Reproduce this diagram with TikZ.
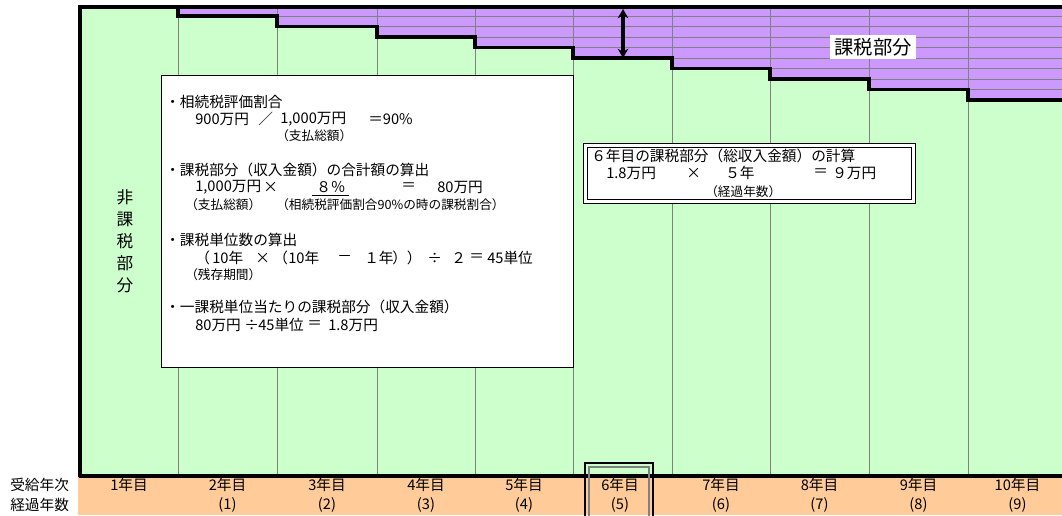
\documentclass[tikz,border=0pt]{standalone}
\usepackage{fontspec}
\setmainfont{Noto Sans CJK JP}
\usetikzlibrary{arrows.meta}
\definecolor{nontax}{HTML}{CCFFCC}
\definecolor{taxpart}{HTML}{CC99FF}
\definecolor{band}{HTML}{FFCC99}
\definecolor{gridgrey}{HTML}{808080}
\tikzset{
  t/.style={font=\fontsize{11}{13}\selectfont, inner sep=0pt, anchor=west},
  s/.style={font=\fontsize{9.5}{11}\selectfont, inner sep=0pt, anchor=west},
  lab/.style={font=\fontsize{11}{13}\selectfont, inner sep=0pt, anchor=center},
  gridline/.style={draw=gridgrey, line width=0.7pt},
  stepline/.style={draw=black, line width=2.4pt, line join=miter},
  frameline/.style={draw=black, line width=2.8pt},
}
\begin{document}
\begin{tikzpicture}[x=0.75pt,y=-0.75pt]
\useasboundingbox (0,0) rectangle (1062,515);
% green base
\fill[nontax] (80,7) rectangle (1062,476);
% purple taxed part
\fill[taxpart] (178,7) -- (1062,7) -- (1062,100) -- (968,100) -- (968,89.5) -- (869,89.5) -- (869,79) -- (770,79) -- (770,68.5) -- (672,68.5) -- (672,58) -- (573,58) -- (573,47.5) -- (475,47.5) -- (475,37) -- (377,37) -- (377,26.5) -- (277,26.5) -- (277,16) -- (178,16) -- cycle;
% grey horizontal lines in the taxed part
\draw[gridline] (277,16) -- (1062,16);
\draw[gridline] (377,26.5) -- (1062,26.5);
\draw[gridline] (475,37) -- (1062,37);
\draw[gridline] (573,47.5) -- (1062,47.5);
\draw[gridline] (672,58) -- (1062,58);
\draw[gridline] (770,68.5) -- (1062,68.5);
\draw[gridline] (869,79) -- (1062,79);
\draw[gridline] (968,89.5) -- (1062,89.5);
% vertical column lines
\foreach \cx in {178,277,377,475,573,672,770,869,968}
  \draw[gridline] (\cx,7) -- (\cx,476);
% step line
\draw[stepline] (178,7) -- (178,16) -- (277,16) -- (277,26.5) -- (377,26.5) -- (377,37) -- (475,37) -- (475,47.5) -- (573,47.5) -- (573,58) -- (672,58) -- (672,68.5) -- (770,68.5) -- (770,79) -- (869,79) -- (869,89.5) -- (968,89.5) -- (968,100) -- (1062,100);
% band
\fill[band] (78,477) rectangle (1062,515);
% frame
\draw[frameline] (80,477) -- (80,7) -- (1062,7);
\draw[frameline] (78.5,476) -- (1062,476);
% double arrow
\coordinate (arT) at (623,9);
\coordinate (arB) at (623,58);
\draw[line width=2.8pt, {Stealth[length=7pt,width=8pt]}-{Stealth[length=7pt,width=8pt]}] (arT) -- (arB);
% taxed label
\node[fill=white, inner xsep=3pt, inner ysep=2pt, font=\fontsize{14.5}{16}\selectfont] (taxlab) at (873,47) {課税部分};
% non-taxed label
\node[align=center, font=\fontsize{12.5}{16.5}\selectfont, inner sep=0pt] (nontaxlab) at (125,241) {非\\課\\税\\部\\分};
% main box
\node[draw=black, line width=1pt, fill=white, minimum width=309pt, minimum height=219pt, inner sep=0pt, anchor=north west] (mainbox) at (161,75) {};
\node[t] (b1h) at (165,102) {・相続税評価割合};
\node[t] (b1a) at (195,119) {900万円};
\node[t] (b1b) at (258,119) {／};
\node[t] (b1c) at (280,119) {1,000万円};
\node[t] (b1d) at (368,119) {＝90\%};
\node[s] (b1e) at (276,136) {（支払総額）};
\node[t] (b2h) at (165,170) {・課税部分（収入金額）の合計額の算出};
\node[t] (b2a) at (195,187) {1,000万円};
\node[t] (b2b) at (263,187) {×};
\node[t] (b2c) at (316,187) {８％};
\draw[line width=0.8pt] ([xshift=-3pt,yshift=-2pt]b2c.south west) -- ([xshift=2pt,yshift=-2pt]b2c.south east);
\node[t] (b2d) at (401,187) {＝};
\node[t] (b2e) at (437,187) {80万円};
\node[s] (b2f) at (185,205) {（支払総額）};
\node[s] (b2g) at (276,205) {（相続税評価割合90\%の時の課税割合）};
\node[t] (b3h) at (165,240) {・課税単位数の算出};
\node[t] (b3a) at (195,258) {（};
\node[t] (b3b) at (212,258) {10年};
\node[t] (b3c) at (255,258) {×};
\node[t] (b3d) at (273,258) {（};
\node[t] (b3e) at (288,258) {10年};
\node[t] (b3f) at (337,258) {－};
\node[t] (b3g) at (364,258) {１年};
\node[t] (b3h2) at (392,258) {））};
\node[t] (b3i) at (427,258) {÷};
\node[t] (b3j) at (451,258) {２};
\node[t] (b3k) at (469,258) {＝};
\node[t] (b3l) at (487,258) {45単位};
\node[s] (b3m) at (185,275) {（残存期間）};
\node[t] (b4h) at (165,307) {・一課税単位当たりの課税部分（収入金額）};
\node[t] (b4a) at (195,325) {80万円};
\node[t] (b4b) at (244,325) {÷};
\node[t] (b4c) at (258,325) {45単位};
\node[t] (b4d) at (307,325) {＝};
\node[t] (b4e) at (328,325) {1.8万円};
% sixth-year box
\node[draw=black, line width=0.9pt, fill=white, minimum width=249pt, minimum height=45pt, inner sep=0pt, anchor=north west] (sixbox) at (583,143) {};
\node[draw=black, line width=0.7pt, minimum width=243pt, minimum height=39pt, inner sep=0pt, anchor=center] (sixinner) at (sixbox.center) {};
\node[t] (s1) at (591,156) {６年目の課税部分（総収入金額）の計算};
\node[t] (s2a) at (606,173) {1.8万円};
\node[t] (s2b) at (686,173) {×};
\node[t] (s2c) at (725,173) {５年};
\node[t] (s2d) at (813,173) {＝};
\node[t] (s2e) at (832,173) {９万円};
\node[s] (s3) at (705,192) {（経過年数）};
% bottom highlight box for 6th year
\draw[draw=gridgrey, line width=0.8pt] (589,520) -- (589,467) -- (649,467) -- (649,520);
\draw[draw=black, line width=0.9pt] (585,520) -- (585,463) -- (653,463) -- (653,520);
% bottom labels
\node[t] (rowa) at (10,485) {受給年次};
\node[t] (rowb) at (10,505) {経過年数};
\node[lab] (y1) at (129,485) {1年目};
\node[lab] (y2) at (227.5,485) {2年目};
\node[lab] (y3) at (327,485) {3年目};
\node[lab] (y4) at (426,485) {4年目};
\node[lab] (y5) at (524,485) {5年目};
\node[lab] (y6) at (620,485) {6年目};
\node[lab] (y7) at (721,485) {7年目};
\node[lab] (y8) at (819.5,485) {8年目};
\node[lab] (y9) at (918.5,485) {9年目};
\node[lab] (y10) at (1017.5,485) {10年目};
\node[lab] (e1) at (227.5,505) {(1)};
\node[lab] (e2) at (327,505) {(2)};
\node[lab] (e3) at (426,505) {(3)};
\node[lab] (e4) at (524,505) {(4)};
\node[lab] (e5) at (620,505) {(5)};
\node[lab] (e6) at (721,505) {(6)};
\node[lab] (e7) at (819.5,505) {(7)};
\node[lab] (e8) at (918.5,505) {(8)};
\node[lab] (e9) at (1017.5,505) {(9)};
\end{tikzpicture}
\end{document}
